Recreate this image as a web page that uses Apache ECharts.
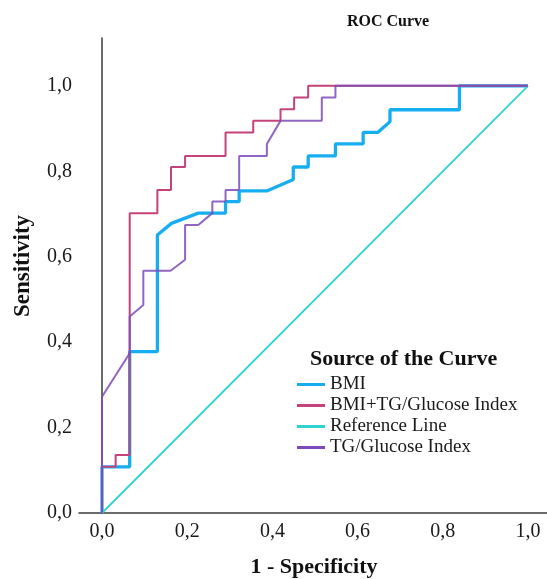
<!DOCTYPE html>
<html>
<head>
<meta charset="utf-8">
<script src="https://cdn.jsdelivr.net/npm/echarts@6/dist/echarts.min.js"></script>
<style>html,body{margin:0;padding:0;background:#fff}#c{width:547px;height:579px}</style>
</head>
<body>
<div id="c"></div>
<script>
// Tick labels
var xTicks = [0, 0.2, 0.4, 0.6, 0.8, 1.0];
var yTicks = [0, 0.2, 0.4, 0.6, 0.8, 1.0];

// Series names
var seriesNames = ['BMI', 'BMI+TG/Glucose Index', 'Reference Line', 'TG/Glucose Index'];

// BMI curve: [1 - specificity, sensitivity]
var bmiX = [0, 0, 0.065, 0.065, 0.13, 0.13, 0.163, 0.226, 0.29, 0.29, 0.322, 0.322, 0.387, 0.449, 0.449, 0.484, 0.484, 0.548, 0.548, 0.613, 0.613, 0.647, 0.676, 0.676, 0.839, 0.839, 1.0];
var bmiY = [0, 0.108, 0.108, 0.378, 0.378, 0.651, 0.678, 0.702, 0.702, 0.729, 0.729, 0.754, 0.754, 0.781, 0.81, 0.81, 0.836, 0.836, 0.864, 0.864, 0.891, 0.891, 0.916, 0.944, 0.944, 1.0, 1.0];

// BMI+TG/Glucose Index curve
var comboX = [0, 0, 0.032, 0.032, 0.065, 0.065, 0.13, 0.13, 0.162, 0.162, 0.195, 0.195, 0.29, 0.29, 0.355, 0.355, 0.419, 0.419, 0.451, 0.451, 0.484, 0.484, 1.0];
var comboY = [0, 0.108, 0.108, 0.136, 0.136, 0.702, 0.702, 0.756, 0.756, 0.81, 0.81, 0.836, 0.836, 0.891, 0.891, 0.918, 0.918, 0.945, 0.945, 0.973, 0.973, 1.0, 1.0];

// Reference line
var refX = [0, 1.0];
var refY = [0, 1.0];

// TG/Glucose Index curve
var tgX = [0, 0, 0.065, 0.065, 0.097, 0.097, 0.161, 0.195, 0.195, 0.226, 0.259, 0.259, 0.29, 0.29, 0.322, 0.322, 0.387, 0.387, 0.419, 0.516, 0.516, 0.548, 0.548, 1.0];
var tgY = [0, 0.272, 0.374, 0.46, 0.487, 0.567, 0.567, 0.593, 0.674, 0.674, 0.702, 0.729, 0.729, 0.756, 0.756, 0.836, 0.836, 0.864, 0.918, 0.918, 0.973, 0.973, 1.0, 1.0];

function pairs(xs, ys) { return xs.map(function (x, i) { return [x, ys[i]]; }); }
function fmt(v) { return v.toFixed(1).replace('.', ','); }

var FONT = '"Liberation Serif", "DejaVu Serif", serif';
var colors = { bmi: '#17aef0', combo: '#c5437b', ref: '#2fd4d2', tg: '#7c4bb9' };

var chart = echarts.init(document.getElementById('c'), null, { renderer: 'canvas' });
chart.setOption({
  animation: false,
  backgroundColor: '#ffffff',
  grid: { left: 79, top: 38, right: 0, bottom: 66, containLabel: false },
  xAxis: {
    type: 'value', min: -0.054, max: 1.0446,
    axisLine: { show: true, lineStyle: { color: '#3a3a3a', width: 1.5 } },
    axisTick: { show: false },
    splitLine: { show: false },
    axisLabel: { customValues: xTicks, formatter: fmt, fontFamily: FONT, fontSize: 20, color: '#1a1a1a', margin: 9 }
  },
  yAxis: {
    type: 'value', min: 0, max: 1.112,
    axisLine: { show: true, lineStyle: { color: '#3a3a3a', width: 1.5 } },
    axisTick: { show: false },
    splitLine: { show: false },
    axisLabel: { customValues: yTicks, formatter: fmt, fontFamily: FONT, fontSize: 20, color: '#1a1a1a', margin: 7 }
  },
  graphic: [
    { type: 'text', x: 347, y: 22,
      style: { text: 'ROC Curve', font: 'bold 16px "Liberation Serif", serif', fill: '#111', textVerticalAlign: 'middle' } },
    { type: 'text', x: 23, y: 266, rotation: Math.PI / 2,
      style: { text: 'Sensitivity', font: 'bold 23px "Liberation Serif", serif', fill: '#111', textAlign: 'center', textVerticalAlign: 'middle' } },
    { type: 'text', x: 314, y: 567,
      style: { text: '1 - Specificity', font: 'bold 22px "Liberation Serif", serif', fill: '#111', textAlign: 'center', textVerticalAlign: 'middle' } },
    { type: 'text', x: 310, y: 359,
      style: { text: 'Source of the Curve', font: 'bold 22px "Liberation Serif", serif', fill: '#111', textVerticalAlign: 'middle' } }
  ],
  legend: {
    orient: 'vertical', left: 297, top: 375, itemGap: 2, padding: 0,
    itemWidth: 28, itemHeight: 3, icon: 'rect', itemTextGap: 5,
    textStyle: { fontFamily: FONT, fontSize: 19, color: '#1a1a1a' },
    data: seriesNames
  },
  series: [
    { name: seriesNames[0], type: 'line', data: pairs(bmiX, bmiY), showSymbol: false, symbol: 'none', z: 2,
      lineStyle: { color: colors.bmi, width: 3.3 }, itemStyle: { color: colors.bmi } },
    { name: seriesNames[1], type: 'line', data: pairs(comboX, comboY), showSymbol: false, symbol: 'none', z: 3,
      lineStyle: { color: colors.combo, width: 2 }, itemStyle: { color: colors.combo } },
    { name: seriesNames[2], type: 'line', data: pairs(refX, refY), showSymbol: false, symbol: 'none', z: 4,
      lineStyle: { color: colors.ref, width: 1.8 }, itemStyle: { color: colors.ref } },
    { name: seriesNames[3], type: 'line', data: pairs(tgX, tgY), showSymbol: false, symbol: 'none', z: 5,
      lineStyle: { color: colors.tg, width: 2, opacity: 0.85 }, itemStyle: { color: colors.tg } }
  ]
});
</script>
</body>
</html>
